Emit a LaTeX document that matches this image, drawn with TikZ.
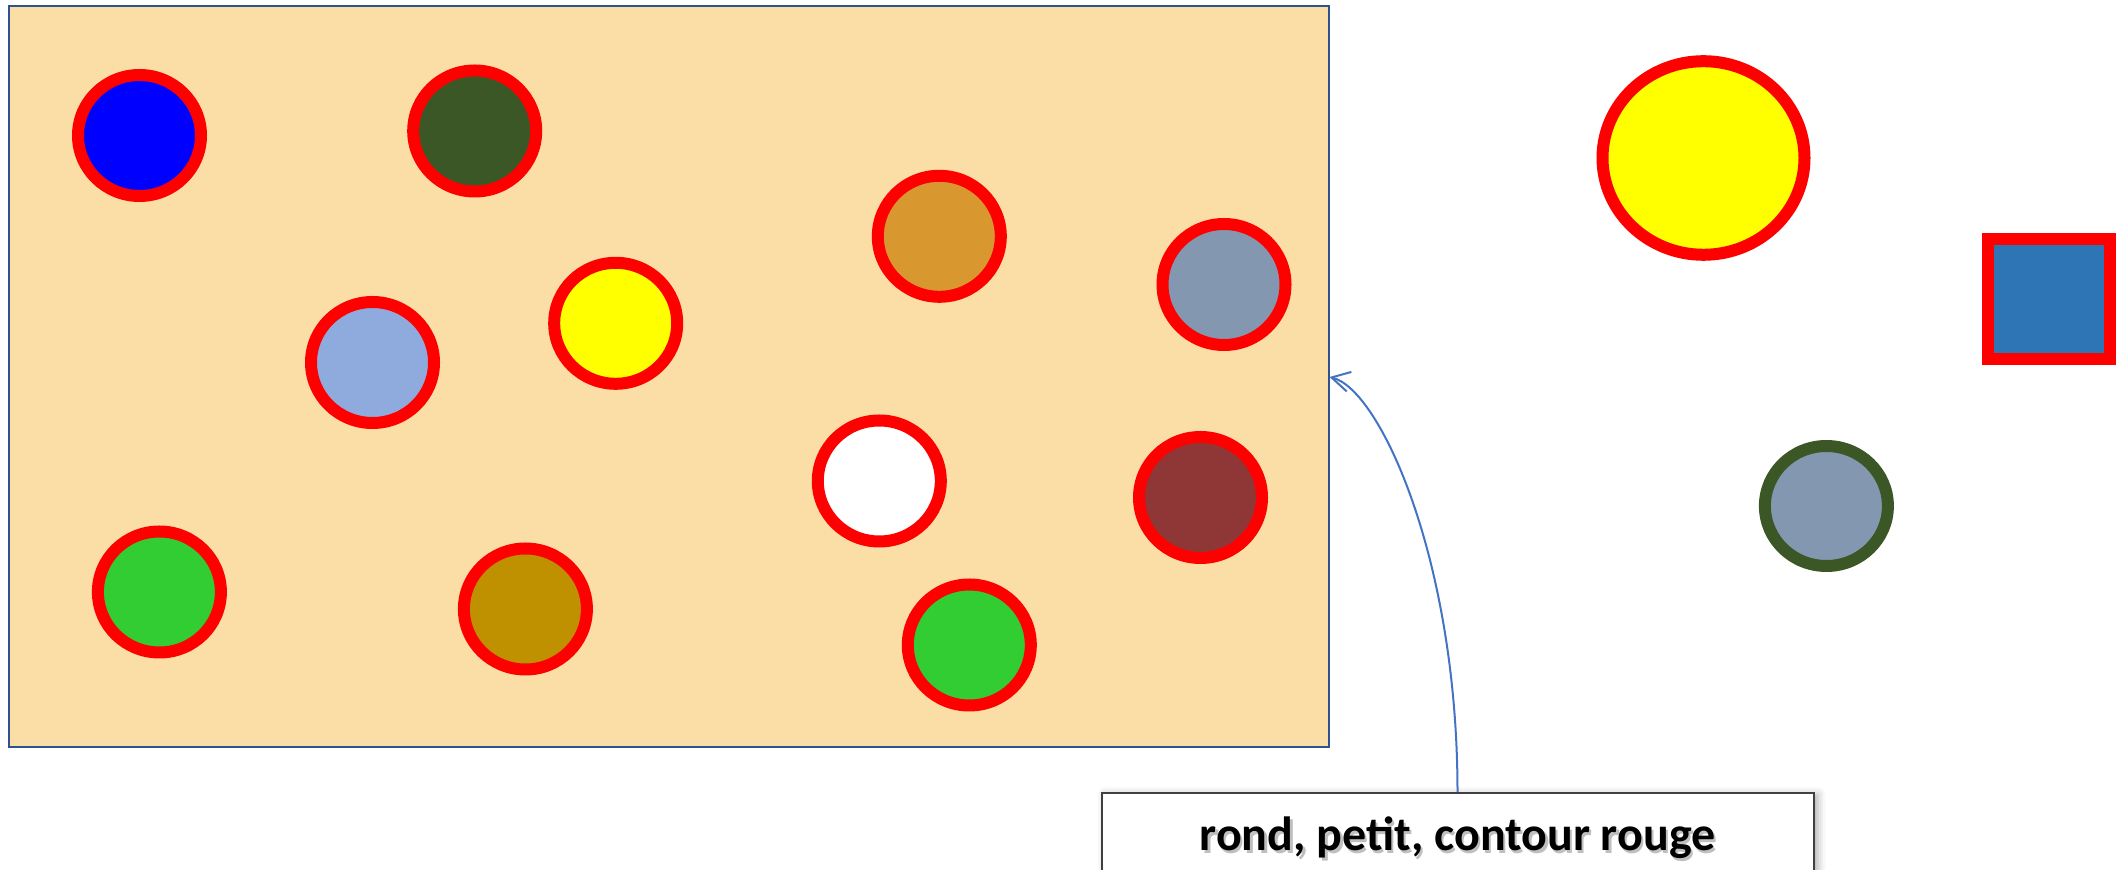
\documentclass[tikz,border=0pt]{standalone}
\usepackage{fontspec}
\setmainfont{Carlito}
\usetikzlibrary{shapes.geometric,arrows.meta,shadows.blur}

\definecolor{panelfill}{HTML}{FBDEA6}
\definecolor{panelline}{HTML}{2F528F}
\definecolor{linkblue}{HTML}{4472C4}
\definecolor{leaf}{HTML}{3B5726}
\definecolor{ochre}{HTML}{D99730}
\definecolor{slate}{HTML}{8497B0}
\definecolor{sky}{HTML}{8FAADC}
\definecolor{wine}{HTML}{8F3636}
\definecolor{lime}{HTML}{32CD32}
\definecolor{gold}{HTML}{BF9000}
\definecolor{steel}{HTML}{2E75B6}
\definecolor{frame}{HTML}{404040}
\definecolor{sun}{HTML}{FFFF00}

\begin{document}
\begin{tikzpicture}[x=0.5pt,y=-0.5pt,
  panel/.style={rectangle, draw=panelline, fill=panelfill, line width=1pt,
    inner sep=0pt, minimum width=660pt, minimum height=370.5pt},
  disc/.style={ellipse, draw=red, line width=6pt, inner sep=0pt,
    minimum width=61.5pt, minimum height=60.5pt},
  bigdisc/.style={disc, minimum width=101pt, minimum height=96.8pt},
  tile/.style={rectangle, draw=red, line width=6pt, inner sep=0pt,
    minimum width=61pt, minimum height=60.3pt},
  caption/.style={rectangle, draw=frame, fill=white, line width=1pt,
    minimum width=356pt, minimum height=43pt, inner sep=0pt,
    blur shadow={shadow xshift=2pt, shadow yshift=-1pt, shadow blur radius=4pt, shadow opacity=35}},
  captionfont/.style={font=\fontsize{24pt}{28pt}\selectfont\bfseries, inner sep=0pt},
  captionshade/.style={captionfont, text=black!55, opacity=0.45},
  conn/.style={draw=linkblue, line width=1pt, -{Straight Barb[length=9pt,width=10pt]}}
]
\useasboundingbox (0,0) rectangle (2121,870);
\clip (0,0) rectangle (2121,870);

% the tray and its discs
\node[panel] (panel) at (668.5,377) {};
\node[disc, fill=blue]  (d1)  at (139.5,135.5) {};
\node[disc, fill=leaf]  (d2)  at (474.7,131) {};
\node[disc, fill=ochre] (d3)  at (939.3,236.3) {};
\node[disc, fill=slate] (d4)  at (1224,284.5) {};
\node[disc, fill=sky]   (d5)  at (372.5,362.5) {};
\node[disc, fill=sun]   (d6)  at (615.7,323.3) {};
\node[disc, fill=white] (d7)  at (879.3,481) {};
\node[disc, fill=wine]  (d8)  at (1200.5,497.5) {};
\node[disc, fill=lime]  (d9)  at (159.4,592) {};
\node[disc, fill=gold]  (d10) at (525.4,609) {};
\node[disc, fill=lime]  (d11) at (969.3,645) {};

% shapes outside the tray
\node[bigdisc, fill=sun] (big) at (1703.5,158) {};
\node[tile, fill=steel] (sq) at (2048.7,299) {};
\node[disc, draw=leaf, fill=slate, minimum height=60pt] (odd) at (1826.4,506) {};

% caption box and its pointer
\node[caption] (label) at (1457.5,836) {};
\node[captionshade] (labelshade) at (1460,841) {rond, petit, contour rouge};
\node[captionfont] (labeltext) at ([yshift=-1pt]label.center) {rond, petit, contour rouge};
\draw[conn] (label.north) .. controls +(0,-233) and +(50,12) .. (panel.east);
\end{tikzpicture}
\end{document}
